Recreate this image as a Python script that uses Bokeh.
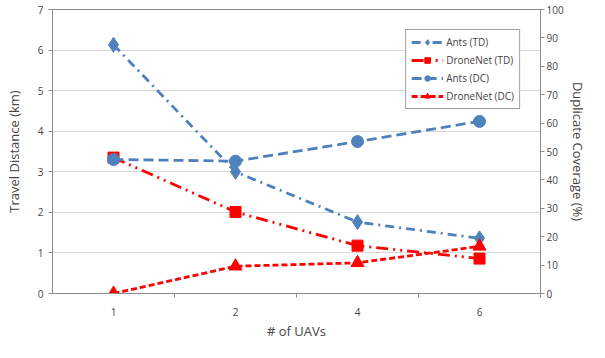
from bokeh.plotting import figure
from bokeh.models import (Range1d, LinearAxis, FixedTicker, Legend, LegendItem)
from bokeh.embed import file_html
from bokeh.resources import INLINE

uavs = ["1", "2", "4", "6"]
ants_td = [6.13, 3.0, 1.76, 1.36]
dronenet_td = [3.35, 2.01, 1.18, 0.86]
ants_dc = [47.2, 46.6, 53.5, 60.6]
dronenet_dc = [0.0, 9.6, 10.8, 16.6]

xpos = [i + 1 for i in range(len(uavs))]
FONT = "Open Sans"
BLUE = "#4F81BD"
RED = "#FF0000"
GRAY = "#8c8c8c"

p = figure(width=589, height=342, output_backend="svg", toolbar_location=None,
           x_range=Range1d(0.5, len(uavs) + 0.5), y_range=Range1d(0, 7),
           min_border_left=52, min_border_right=36, min_border_top=9, min_border_bottom=36)
p.extra_y_ranges = {"dc": Range1d(0, 100)}

p.outline_line_color = GRAY
p.background_fill_color = "white"
p.xgrid.grid_line_color = None
p.ygrid.grid_line_color = "#b0b0b0"
p.ygrid.grid_line_dash = "1 1"
p.ygrid.grid_line_width = 1

# x axis
xa = p.xaxis[0]
xa.ticker = FixedTicker(ticks=xpos, minor_ticks=[x + 0.5 for x in xpos])
xa.major_label_overrides = {x: lab for x, lab in zip(xpos, uavs)}
xa.major_tick_line_color = None
xa.major_tick_out = 0
xa.major_tick_in = 0
xa.minor_tick_in = 0
xa.minor_tick_out = 4
xa.minor_tick_line_color = GRAY
xa.axis_line_color = GRAY
xa.axis_label = "# of UAVs"
xa.axis_label_text_font = FONT
xa.axis_label_text_font_size = "13px"
xa.axis_label_text_font_style = "normal"
xa.axis_label_standoff = 3
xa.major_label_text_font = FONT
xa.major_label_text_font_size = "10px"
xa.major_label_standoff = 10

# left axis
ya = p.yaxis[0]
ya.ticker = FixedTicker(ticks=list(range(0, 8)))
ya.minor_tick_line_color = None
ya.major_tick_in = 0
ya.major_tick_out = 4
ya.major_tick_line_color = GRAY
ya.axis_line_color = GRAY
ya.axis_label = "Travel Distance (km)"
ya.axis_label_text_font = FONT
ya.axis_label_text_font_size = "13px"
ya.axis_label_text_font_style = "normal"
ya.axis_label_standoff = 12
ya.major_label_text_font = FONT
ya.major_label_text_font_size = "10px"
ya.major_label_standoff = 5

# right axis
ra = LinearAxis(y_range_name="dc", ticker=FixedTicker(ticks=list(range(0, 101, 10))))
ra.minor_tick_line_color = None
ra.major_tick_in = 0
ra.major_tick_out = 4
ra.major_tick_line_color = GRAY
ra.axis_line_color = GRAY
ra.axis_label = "Duplicate Coverage (%)"
ra.axis_label_text_font = FONT
ra.axis_label_text_font_size = "13px"
ra.axis_label_text_font_style = "normal"
ra.axis_label_standoff = 2
ra.major_label_text_font = FONT
ra.major_label_text_font_size = "10px"
ra.major_label_standoff = 2
p.add_layout(ra, "right")

LW = 2.8
l1 = p.line(xpos, ants_td, color=BLUE, line_width=LW, line_dash="9 5 2 5")
m1 = p.scatter(xpos, ants_td, marker="diamond", size=15, color=BLUE)
l2 = p.line(xpos, dronenet_td, color=RED, line_width=LW, line_dash="12 5 2 5 2 5")
m2 = p.scatter(xpos, dronenet_td, marker="square", size=11, color=RED)
l3 = p.line(xpos, ants_dc, color=BLUE, line_width=LW, line_dash="10 5", y_range_name="dc")
m3 = p.scatter(xpos, ants_dc, marker="circle", size=12, color=BLUE, y_range_name="dc")
l4 = p.line(xpos, dronenet_dc, color=RED, line_width=LW, line_dash="6 3", y_range_name="dc")
m4 = p.scatter(xpos, dronenet_dc, marker="triangle", size=13, color=RED, y_range_name="dc")

legend = Legend(items=[
    LegendItem(label="Ants (TD)", renderers=[l1, m1]),
    LegendItem(label="DroneNet (TD)", renderers=[l2, m2]),
    LegendItem(label="Ants (DC)", renderers=[l3, m3]),
    LegendItem(label="DroneNet (DC)", renderers=[l4, m4]),
], location="top_right")
legend.border_line_color = "#404040"
legend.border_line_width = 1
legend.background_fill_alpha = 1
legend.label_text_font = FONT
legend.label_text_font_size = "10px"
legend.glyph_width = 32
legend.glyph_height = 14
legend.label_height = 14
legend.spacing = 4
legend.padding = 5
legend.margin = 20
legend.label_standoff = 3
p.add_layout(legend, "center")

open("out.html", "w").write(file_html(p, INLINE))
